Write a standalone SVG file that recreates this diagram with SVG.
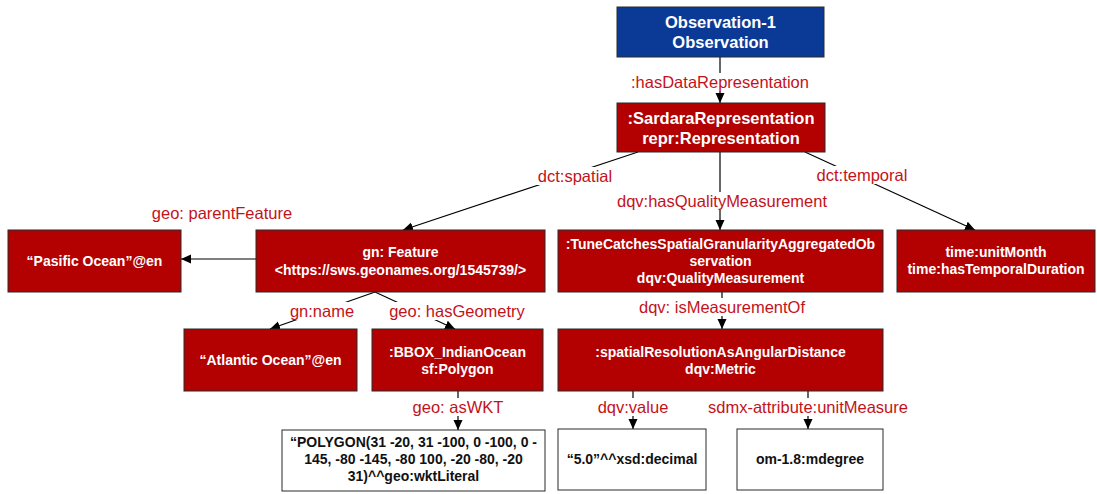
<svg xmlns="http://www.w3.org/2000/svg" width="1097" height="494" viewBox="0 0 1097 494">
  <defs>
    <marker id="arrow" markerUnits="userSpaceOnUse" markerWidth="11" markerHeight="10" refX="10" refY="4.5" orient="auto">
      <path d="M0,0 L10,4.5 L0,9 z" fill="#000"/>
    </marker>
    <style>
      text { font-family: "Liberation Sans", Arial, Helvetica, sans-serif; text-anchor: middle; }
      .box { stroke: #2a2a2a; stroke-width: 1; }
      .red { fill: #b30000; }
      .blue { fill: #0b3a96; }
      .lit { fill: #ffffff; }
      .big { font-size: 16.5px; font-weight: bold; fill: #ffffff; }
      .nt { font-size: 14px; font-weight: bold; fill: #ffffff; }
      .lt { font-size: 14px; font-weight: bold; fill: #111111; }
      .edge { stroke: #000; stroke-width: 1.2; fill: none; marker-end: url(#arrow); }
      .lbg { fill: #ffffff; }
      .lbl { font-size: 16.5px; fill: #c4121a; }
    </style>
  </defs>

  <!-- connectors: lines first, then label plates and labels on top -->
  <g id="connectors">
    <line class="edge" x1="720" y1="57" x2="720" y2="103"/>
    <line class="edge" x1="638" y1="152" x2="403" y2="230"/>
    <line class="edge" x1="720" y1="152" x2="720" y2="230"/>
    <line class="edge" x1="805" y1="152" x2="975" y2="230"/>
    <line class="edge" x1="256" y1="259" x2="181" y2="259"/>
    <line class="edge" x1="375" y1="292" x2="270" y2="329"/>
    <line class="edge" x1="375" y1="292" x2="455" y2="329"/>
    <line class="edge" x1="458" y1="391" x2="458" y2="430"/>
    <line class="edge" x1="722" y1="292" x2="722" y2="329"/>
    <line class="edge" x1="633" y1="391" x2="633" y2="429"/>
    <line class="edge" x1="808" y1="391" x2="808" y2="429"/>

    <rect class="lbg" x="629" y="73" width="182" height="18"/>
    <text class="lbl" x="720" y="88">:hasDataRepresentation</text>

    <rect class="lbg" x="536" y="167" width="78" height="18"/>
    <text class="lbl" x="575" y="182">dct:spatial</text>

    <rect class="lbg" x="615" y="192" width="214" height="18"/>
    <text class="lbl" x="722" y="207">dqv:hasQualityMeasurement</text>

    <rect class="lbg" x="815" y="166" width="95" height="18"/>
    <text class="lbl" x="862" y="181">dct:temporal</text>

    <text class="lbl" x="222" y="219">geo: parentFeature</text>

    <rect class="lbg" x="288" y="302" width="68" height="18"/>
    <text class="lbl" x="322" y="317">gn:name</text>

    <rect class="lbg" x="387" y="302" width="140" height="18"/>
    <text class="lbl" x="457" y="317">geo: hasGeometry</text>

    <rect class="lbg" x="412" y="398" width="92" height="18"/>
    <text class="lbl" x="458" y="413">geo: asWKT</text>

    <rect class="lbg" x="636" y="298" width="172" height="18"/>
    <text class="lbl" x="722" y="313">dqv: isMeasurementOf</text>

    <rect class="lbg" x="596" y="398" width="74" height="18"/>
    <text class="lbl" x="633" y="413">dqv:value</text>

    <rect class="lbg" x="706" y="398" width="204" height="18"/>
    <text class="lbl" x="808" y="413">sdmx-attribute:unitMeasure</text>
  </g>

  <g id="observation">
    <rect class="box blue" x="617" y="7" width="207" height="50"/>
    <text class="big" x="720.5" y="28">Observation-1</text>
    <text class="big" x="720.5" y="48">Observation</text>
  </g>

  <g id="sardara">
    <rect class="box red" x="617" y="103" width="208" height="49"/>
    <text class="big" x="721" y="123.5">:SardaraRepresentation</text>
    <text class="big" x="721" y="143.5">repr:Representation</text>
  </g>

  <g id="pacific">
    <rect class="box red" x="8" y="230" width="173" height="62"/>
    <text class="nt" x="94.5" y="266">“Pasific Ocean”@en</text>
  </g>

  <g id="feature">
    <rect class="box red" x="256" y="230" width="289" height="62"/>
    <text class="nt" x="400.5" y="257">gn: Feature</text>
    <text class="nt" x="400.5" y="275">&lt;https://sws.geonames.org/1545739/&gt;</text>
  </g>

  <g id="quality">
    <rect class="box red" x="558" y="230" width="325" height="62"/>
    <text class="nt" x="720.5" y="249">:TuneCatchesSpatialGranularityAggregatedOb</text>
    <text class="nt" x="720.5" y="266">servation</text>
    <text class="nt" x="720.5" y="283">dqv:QualityMeasurement</text>
  </g>

  <g id="temporal">
    <rect class="box red" x="897" y="230" width="198" height="62"/>
    <text class="nt" x="996" y="257">time:unitMonth</text>
    <text class="nt" x="996" y="274">time:hasTemporalDuration</text>
  </g>

  <g id="atlantic">
    <rect class="box red" x="184" y="329" width="173" height="62"/>
    <text class="nt" x="270.5" y="365">“Atlantic Ocean”@en</text>
  </g>

  <g id="bbox">
    <rect class="box red" x="372" y="329" width="171" height="62"/>
    <text class="nt" x="457.5" y="357">:BBOX_IndianOcean</text>
    <text class="nt" x="457.5" y="374">sf:Polygon</text>
  </g>

  <g id="metric">
    <rect class="box red" x="558" y="329" width="325" height="62"/>
    <text class="nt" x="720.5" y="357">:spatialResolutionAsAngularDistance</text>
    <text class="nt" x="720.5" y="374">dqv:Metric</text>
  </g>

  <g id="wkt">
    <rect class="box lit" x="282" y="430" width="263" height="61"/>
    <text class="lt" x="413.5" y="447">“POLYGON(31 -20, 31 -100, 0 -100, 0 -</text>
    <text class="lt" x="413.5" y="464">145, -80 -145, -80 100, -20 -80, -20</text>
    <text class="lt" x="413.5" y="481">31)^^geo:wktLiteral</text>
  </g>

  <g id="value">
    <rect class="box lit" x="558" y="429" width="148" height="61"/>
    <text class="lt" x="632" y="464">“5.0”^^xsd:decimal</text>
  </g>

  <g id="unit">
    <rect class="box lit" x="737" y="429" width="146" height="61"/>
    <text class="lt" x="810" y="464">om-1.8:mdegree</text>
  </g>
</svg>
